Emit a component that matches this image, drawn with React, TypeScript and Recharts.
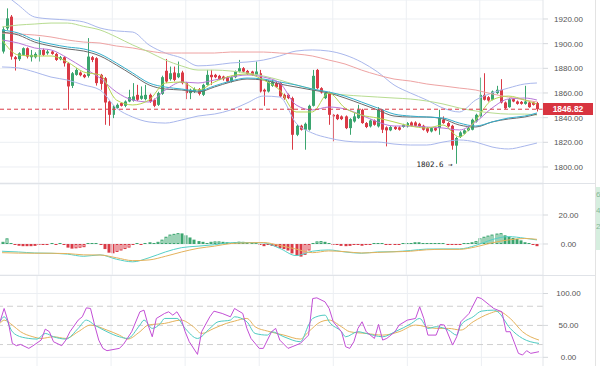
import { ComposedChart, Bar, Line, XAxis, YAxis, CartesianGrid, ReferenceLine } from "recharts";

// candles (index = bar number from the left)
const opens = [
  1893.6, 1912.4, 1921.9, 1889.0, 1887.4, 1890.9, 1896.3, 1889.0, 1889.0, 1890.9,
  1894.9, 1892.2, 1893.6, 1891.7, 1887.4, 1889.0, 1884.1, 1865.8, 1874.7, 1876.6,
  1874.7, 1873.9, 1889.0, 1888.2, 1874.7, 1872.0, 1853.1, 1842.3, 1847.7, 1851.8,
  1849.6, 1853.1, 1853.9, 1858.5, 1855.3, 1855.0, 1858.5, 1854.5, 1850.4, 1859.3,
  1878.0, 1871.2, 1876.6, 1872.8, 1876.6, 1868.0, 1859.9, 1861.2, 1863.1, 1858.5,
  1866.6, 1874.7, 1874.7, 1873.9, 1873.3, 1872.8, 1869.3, 1872.8, 1877.4, 1880.1,
  1877.9, 1877.4, 1874.7, 1876.0, 1862.6, 1861.2, 1865.8, 1868.0, 1868.0, 1858.5,
  1858.5, 1855.8, 1826.1, 1833.4, 1830.2, 1830.2, 1849.6, 1878.7, 1863.9, 1855.8,
  1859.9, 1842.3, 1842.3, 1841.0, 1841.0, 1831.5, 1836.9, 1839.6, 1846.4, 1835.6,
  1832.9, 1837.7, 1832.9, 1846.4, 1832.1, 1829.7, 1832.4, 1832.1, 1832.4, 1832.9,
  1836.1, 1836.1, 1835.0, 1833.4, 1831.5, 1828.8, 1831.5, 1831.5, 1838.3, 1835.6,
  1833.4, 1817.3, 1824.3, 1827.0, 1829.7, 1830.2, 1836.9, 1841.0, 1858.5, 1856.6,
  1854.5, 1859.9, 1862.6, 1852.3, 1848.5, 1855.0, 1853.1, 1852.8, 1851.2, 1852.3,
  1852.3, 1851.8,
];
const highs = [
  1913.8, 1928.6, 1923.2, 1890.0, 1893.0, 1897.0, 1897.0, 1894.9, 1893.0, 1905.2,
  1896.0, 1895.0, 1894.5, 1892.5, 1890.0, 1890.0, 1885.0, 1877.0, 1880.1, 1877.5,
  1875.5, 1904.5, 1890.0, 1889.0, 1875.5, 1873.0, 1854.0, 1850.0, 1851.5, 1852.5,
  1854.0, 1862.6, 1868.0, 1866.6, 1865.3, 1866.6, 1859.5, 1855.5, 1861.0, 1874.0,
  1887.6, 1881.4, 1881.4, 1885.5, 1878.0, 1869.0, 1863.5, 1864.5, 1864.0, 1867.5,
  1878.7, 1878.7, 1875.5, 1874.7, 1874.0, 1873.5, 1873.5, 1878.2, 1886.8, 1881.0,
  1878.7, 1878.0, 1885.5, 1878.7, 1863.5, 1870.2, 1870.6, 1869.0, 1869.0, 1859.5,
  1859.5, 1857.0, 1834.5, 1834.2, 1836.0, 1850.5, 1878.7, 1879.5, 1864.7, 1861.0,
  1861.0, 1843.0, 1843.0, 1841.8, 1841.8, 1839.6, 1843.7, 1850.4, 1847.2, 1836.4,
  1838.5, 1838.5, 1848.5, 1847.0, 1832.9, 1833.2, 1833.2, 1832.9, 1835.0, 1836.4,
  1836.9, 1837.0, 1835.8, 1834.2, 1832.4, 1832.4, 1832.4, 1846.4, 1841.0, 1836.4,
  1834.2, 1824.5, 1829.0, 1830.5, 1832.4, 1839.2, 1843.2, 1872.5, 1876.0, 1857.5,
  1862.0, 1865.8, 1871.2, 1853.1, 1855.8, 1855.8, 1853.9, 1853.5, 1865.8, 1853.1,
  1853.1, 1852.8,
];
const lows = [
  1892.0, 1911.0, 1887.0, 1878.2, 1886.0, 1890.0, 1888.0, 1885.5, 1888.0, 1885.5,
  1890.0, 1891.0, 1891.0, 1886.0, 1886.5, 1881.4, 1846.4, 1864.0, 1874.0, 1873.5,
  1872.0, 1872.5, 1885.0, 1866.0, 1862.6, 1834.2, 1833.4, 1839.6, 1847.0, 1849.0,
  1848.5, 1852.5, 1853.0, 1853.5, 1854.5, 1854.0, 1852.0, 1848.5, 1849.5, 1858.5,
  1868.0, 1870.0, 1869.5, 1872.0, 1867.0, 1855.0, 1855.0, 1860.0, 1858.0, 1857.5,
  1866.0, 1866.6, 1872.0, 1870.5, 1870.0, 1868.5, 1868.5, 1872.0, 1876.6, 1876.6,
  1874.7, 1874.0, 1874.0, 1860.4, 1849.6, 1860.4, 1865.0, 1864.0, 1856.5, 1854.5,
  1855.0, 1814.0, 1825.0, 1829.5, 1814.0, 1829.5, 1849.0, 1863.0, 1859.5, 1855.0,
  1834.2, 1820.8, 1838.0, 1838.0, 1830.7, 1826.1, 1836.0, 1839.0, 1835.0, 1831.5,
  1832.0, 1833.5, 1832.0, 1827.5, 1816.7, 1829.0, 1830.0, 1829.5, 1831.8, 1832.0,
  1832.8, 1832.8, 1832.0, 1829.5, 1827.5, 1828.0, 1829.0, 1826.1, 1835.0, 1832.0,
  1814.0, 1802.6, 1823.5, 1826.5, 1829.0, 1829.7, 1836.0, 1840.0, 1853.9, 1853.0,
  1854.0, 1859.0, 1851.5, 1847.0, 1848.0, 1852.5, 1850.5, 1850.5, 1850.5, 1848.0,
  1849.8, 1845.0,
];
const closes = [
  1911.6, 1920.5, 1889.5, 1887.4, 1892.2, 1896.3, 1889.5, 1890.9, 1891.7, 1894.9,
  1890.9, 1893.6, 1891.7, 1886.8, 1889.0, 1884.1, 1865.3, 1876.0, 1878.7, 1874.4,
  1872.8, 1889.5, 1886.8, 1868.0, 1867.4, 1852.3, 1842.3, 1849.1, 1850.4, 1849.6,
  1853.1, 1856.6, 1857.2, 1854.5, 1857.8, 1858.5, 1853.1, 1849.6, 1859.9, 1872.8,
  1869.3, 1876.0, 1870.6, 1876.0, 1868.0, 1859.9, 1862.6, 1863.1, 1859.3, 1866.6,
  1874.7, 1872.8, 1872.8, 1871.2, 1871.2, 1869.3, 1872.8, 1877.4, 1880.1, 1877.4,
  1875.5, 1874.7, 1877.4, 1861.2, 1861.2, 1869.3, 1869.3, 1864.7, 1857.2, 1855.8,
  1855.8, 1826.1, 1833.4, 1830.2, 1835.0, 1849.6, 1873.9, 1863.9, 1860.4, 1859.9,
  1842.3, 1841.0, 1838.8, 1838.8, 1831.5, 1838.8, 1841.0, 1846.4, 1835.6, 1832.4,
  1837.7, 1834.2, 1846.4, 1830.2, 1829.7, 1832.4, 1830.7, 1830.2, 1834.2, 1835.6,
  1833.4, 1833.4, 1832.9, 1830.2, 1828.8, 1831.5, 1829.7, 1839.6, 1835.6, 1832.9,
  1817.3, 1823.5, 1828.0, 1829.7, 1831.5, 1838.3, 1842.3, 1858.5, 1854.5, 1853.9,
  1861.2, 1862.6, 1852.3, 1847.7, 1855.0, 1853.1, 1851.2, 1851.2, 1853.1, 1848.5,
  1850.4, 1846.82,
];

// MACD histogram, one per bar
const macdHist = [
  1.5, 3.9, 1.0, -0.5, -1.2, -1.5, -1.5, -1.5, -1.3, -0.8,
  -0.5, -0.3, 0.2, -0.2, 0.2, -0.3, -2.5, -3.2, -3.0, -2.6,
  -2.2, 0.8, 1.0, 0.2, -0.3, -3.5, -6.0, -6.4, -5.5, -4.5,
  -3.5, -2.5, -1.0, 0.0, -0.3, 0.3, 1.2, 1.0, 1.5, 3.0,
  5.0, 6.5, 7.0, 7.5, 7.3, 6.0, 4.5, 3.0, 2.0, 1.5,
  1.0, 1.5, 1.8, 1.8, 1.5, 1.2, 1.0, 1.3, 1.6, 1.5,
  1.2, 0.8, 0.6, -0.8, -1.5, -1.0, -1.3, -1.8, -2.8, -3.5,
  -4.5, -6.5, -8.0, -8.7, -7.5, -4.5, 0.8, 1.8, 2.0, 1.5,
  0.5, -0.8, -1.0, -1.3, -1.5, -1.3, -1.0, -0.6, -1.2, -0.8,
  -0.3, 0.2, 0.8, 0.3, -0.6, -0.5, -0.4, -0.4, 0.3, 0.6,
  0.9, 1.2, 1.2, 0.8, 0.5, 0.4, 0.6, 1.0, 0.6, -0.4,
  -0.8, -0.6, -0.2, 0.3, 0.8, 1.2, 2.0, 4.0, 5.0, 5.8,
  6.5, 7.2, 7.5, 6.0, 5.0, 4.2, 3.5, 2.5, 1.2, 0.5,
  -0.4, -1.5,
];

// overlay lines are read every 4th bar
const lineIdx = [0, 4, 8, 12, 16, 20, 24, 28, 32, 36, 40, 44, 48, 52, 56, 60, 64, 68, 72, 76, 80, 84, 88, 92, 96, 100, 104, 108, 112, 116, 120, 124, 128, 131];
const bbUpper = [1941.9, 1931.3, 1921.6, 1920.0, 1919.2, 1917.6, 1912.7, 1910.3, 1909.4, 1898.9, 1892.4, 1888.4, 1882.0, 1882.7, 1884.3, 1885.1, 1886.7, 1890.0, 1894.0, 1894.9, 1894.0, 1890.8, 1885.1, 1877.0, 1866.5, 1860.0, 1854.3, 1847.8, 1844.6, 1854.3, 1860.0, 1864.0, 1867.3, 1868.1];
const bbLower = [1881.1, 1880.3, 1877.0, 1872.9, 1870.5, 1866.5, 1862.4, 1847.8, 1840.5, 1836.5, 1835.6, 1838.1, 1841.3, 1842.9, 1846.2, 1851.9, 1857.5, 1856.7, 1835.6, 1827.5, 1823.5, 1821.0, 1820.2, 1820.2, 1818.6, 1817.8, 1817.8, 1820.2, 1821.9, 1820.2, 1816.2, 1814.6, 1817.0, 1819.4];
const maRed = [1908.6, 1907.8, 1907.0, 1905.4, 1903.0, 1901.3, 1900.5, 1898.1, 1896.5, 1894.0, 1892.4, 1892.4, 1892.4, 1892.4, 1893.2, 1893.2, 1893.2, 1892.4, 1891.6, 1890.0, 1886.7, 1883.5, 1878.6, 1874.6, 1871.3, 1869.7, 1867.3, 1865.7, 1864.0, 1862.4, 1859.2, 1856.7, 1854.3, 1852.7];
const maGreen = [1913.5, 1915.1, 1915.9, 1916.7, 1916.7, 1914.0, 1911.1, 1905.4, 1898.9, 1893.2, 1886.7, 1881.9, 1878.6, 1878.6, 1877.8, 1876.2, 1873.8, 1870.5, 1866.5, 1863.2, 1860.0, 1858.4, 1857.5, 1856.7, 1855.9, 1855.1, 1853.5, 1851.1, 1847.8, 1845.4, 1843.8, 1842.9, 1842.9, 1842.1];
const maGrey = [1909.4, 1907.0, 1901.3, 1898.1, 1895.7, 1894.0, 1890.0, 1882.7, 1874.6, 1866.5, 1863.2, 1862.4, 1860.8, 1864.8, 1868.9, 1871.3, 1870.5, 1867.3, 1864.8, 1862.4, 1860.0, 1855.9, 1851.1, 1846.2, 1841.3, 1840.5, 1840.5, 1838.9, 1834.0, 1832.4, 1836.5, 1838.9, 1840.5, 1842.9];
const maTeal = [1911.0, 1908.6, 1903.0, 1899.7, 1897.3, 1895.7, 1891.6, 1884.3, 1876.2, 1868.1, 1864.8, 1863.2, 1861.6, 1865.7, 1869.7, 1872.1, 1871.3, 1868.9, 1866.5, 1863.2, 1860.8, 1857.5, 1852.7, 1847.8, 1842.9, 1841.3, 1840.5, 1839.7, 1835.6, 1833.2, 1836.5, 1839.7, 1841.3, 1843.8];
const maPurple = [1903.0, 1900.5, 1896.5, 1894.9, 1888.4, 1880.3, 1872.1, 1860.8, 1854.3, 1852.7, 1862.4, 1868.9, 1868.1, 1870.5, 1872.9, 1874.6, 1872.9, 1868.1, 1850.3, 1846.2, 1848.6, 1847.0, 1842.1, 1836.5, 1833.2, 1833.2, 1832.4, 1831.6, 1830.0, 1836.5, 1847.8, 1855.1, 1855.9, 1854.3];
const maFast = [1903.0, 1890.8, 1890.0, 1890.0, 1885.1, 1877.0, 1874.6, 1854.3, 1850.3, 1854.3, 1868.1, 1868.9, 1862.4, 1868.9, 1873.8, 1875.4, 1870.5, 1862.4, 1844.6, 1844.6, 1860.0, 1847.8, 1842.1, 1839.7, 1836.5, 1833.2, 1831.6, 1834.0, 1824.3, 1838.1, 1854.3, 1857.5, 1854.3, 1851.0];
const difLine = [-5.0, -5.5, -6.2, -6.4, -7.0, -8.5, -7.5, -10.5, -12.3, -9.5, -5.5, -2.5, -1.5, -0.5, 0.9, 1.0, 0.8, -3.0, -8.0, -5.0, -4.1, -5.5, -6.4, -5.5, -5.3, -4.5, -3.5, -3.4, -3.4, -1.0, 3.0, 5.1, 4.0, 2.8];
const deaLine = [-6.0, -6.3, -6.4, -6.4, -6.6, -7.5, -7.6, -9.5, -11.5, -11.0, -8.5, -5.5, -3.0, -1.5, 0.3, 0.8, 1.0, -1.0, -3.5, -6.0, -4.8, -5.3, -6.2, -5.8, -5.4, -5.0, -4.0, -3.7, -3.7, -2.0, 0.8, 2.8, 3.8, 3.2];

// KDJ: [bar, value]
const kLine = [[0, 55.7], [1, 63.5], [3, 40.1], [4, 34.8], [7, 29.6], [9, 28.6], [11, 37.4], [13, 32.2], [16, 28.6], [19, 45.3], [21, 58.3], [23, 50.5], [26, 40.1], [29, 32.2], [31, 29.6], [34, 50.5], [35, 58.3], [37, 45.3], [39, 53.1], [40, 60.9], [43, 60.9], [45, 45.3], [48, 29.6], [51, 45.3], [53, 55.7], [56, 58.3], [57, 63.5], [60, 55.7], [62, 37.4], [65, 34.8], [66, 40.1], [69, 32.2], [73, 24.4], [75, 50.5], [76, 60.9], [79, 66.1], [80, 55.7], [83, 40.1], [84, 32.2], [87, 40.1], [89, 37.4], [93, 32.2], [96, 40.1], [100, 53.1], [102, 60.9], [104, 45.3], [106, 47.9], [109, 42.7], [111, 34.8], [112, 50.5], [115, 63.5], [117, 72.3], [120, 73.9], [121, 71.3], [124, 45.3], [127, 29.6], [131, 21.8]];
const dLine = [[0, 53.1], [1, 58.3], [3, 50.5], [5, 40.1], [8, 32.2], [10, 29.6], [13, 32.2], [16, 29.6], [19, 40.1], [22, 50.5], [26, 42.7], [29, 34.8], [31, 28.6], [34, 40.1], [36, 50.5], [40, 53.1], [44, 58.3], [47, 47.9], [49, 37.4], [52, 45.3], [55, 53.1], [57, 56.7], [60, 60.9], [62, 47.9], [65, 41.1], [69, 34.8], [73, 28.6], [75, 40.1], [78, 55.7], [80, 58.3], [83, 47.9], [85, 40.1], [89, 37.4], [93, 34.8], [97, 40.1], [101, 50.5], [106, 45.3], [109, 45.3], [112, 42.7], [115, 55.7], [119, 68.7], [121, 72.3], [124, 60.9], [127, 40.1], [131, 27]];
const jLine = [[0, 55.7], [1, 76.5], [2, 55.7], [3, 21.8], [4, 18.2], [5, 20.2], [7, 14], [8, 18], [10, 27], [11, 44.2], [12, 40.1], [13, 24.4], [15, 18.2], [16, 27], [17, 40.1], [19, 58.3], [20, 63.5], [21, 77.5], [22, 76.5], [23, 50.5], [24, 27], [25, 14], [26, 10.4], [29, 14], [30, 20.2], [32, 40.1], [34, 71.3], [35, 73.9], [36, 50.5], [37, 32.2], [38, 60.9], [40, 68.7], [41, 71.3], [42, 66.1], [43, 71.3], [44, 60.9], [45, 40.1], [46, 24.4], [48, 4.6], [49, 40.1], [51, 63.5], [52, 72.3], [54, 68.7], [56, 63.5], [57, 76.5], [59, 68.7], [60, 45.3], [61, 29.6], [63, 14], [64, 14], [66, 40.1], [67, 45.3], [68, 27], [70, 14], [71, 16.6], [73, 21.8], [75, 34.8], [76, 92.1], [77, 93.2], [79, 86.9], [80, 76.5], [81, 55.7], [83, 40.1], [84, 16.6], [85, 14], [86, 24.4], [87, 45.3], [88, 55.7], [89, 40.1], [91, 29.6], [92, 51.5], [93, 27], [94, 29.6], [96, 40.1], [97, 50.5], [99, 58.3], [101, 60.9], [102, 79.1], [103, 60.9], [104, 34.8], [106, 34.8], [107, 51.5], [108, 50.5], [110, 19.2], [111, 32.2], [112, 55.7], [114, 68.7], [116, 94.2], [117, 92.1], [119, 81.7], [120, 76.5], [122, 71.3], [123, 40.1], [124, 40.1], [126, 6.2], [127, 3.6], [128, 10.4], [129, 6.2], [131, 8.8]];

const priceTicks = [1800, 1820, 1840, 1860, 1880, 1900, 1920];
const macdTicks = [0, 20];
const kdjTicks = [0, 50, 100];
const kdjLevels = [20, 50, 80];
const gridBars = [9, 27, 45, 63, 81, 99, 117];

const UP = "#3ba56f";
const DOWN = "#da3a46";
const GRID = "#eceff3";
const FONT = "'Liberation Sans', Arial, sans-serif";
const W = 595;
const AXIS_W = 52;
const PRICE_DOMAIN = [1787, 1935.4];
const MAIN_H = 183;

const rows: any[] = opens.map((o, i) => ({
  i, o, h: highs[i], l: lows[i], c: closes[i],
  hist: macdHist[i], prevHist: i ? macdHist[i - 1] : 0,
}));
lineIdx.forEach((b, n) => {
  Object.assign(rows[b], {
    bbUp: bbUpper[n], bbLo: bbLower[n], maRed: maRed[n], maGreen: maGreen[n],
    maGrey: maGrey[n], maTeal: maTeal[n], maPurple: maPurple[n], maFast: maFast[n],
    dif: difLine[n], dea: deaLine[n],
  });
});
kLine.forEach(([b, v]) => (rows[b].k = v));
dLine.forEach(([b, v]) => (rows[b].d = v));
jLine.forEach(([b, v]) => (rows[b].j = v));

const lowIdx = lows.indexOf(Math.min(...lows));
const lastClose = closes[closes.length - 1];

function Candle(props: any) {
  const { x, y, width, height, payload } = props;
  const { o, h, l, c } = payload;
  const top = Math.min(y, y + height);
  const span = Math.abs(height);
  const r = h > l ? span / (h - l) : 0;
  const color = c >= o ? UP : DOWN;
  const bodyTop = top + (h - Math.max(o, c)) * r;
  const bodyH = Math.max(1, Math.abs(o - c) * r);
  const cx = Math.round(x + width / 2) + 0.5;
  return (
    <g>
      <line x1={cx} x2={cx} y1={top} y2={top + span} stroke={color} strokeWidth={1} />
      <rect x={cx - 1.5} y={bodyTop} width={3} height={bodyH} fill={color} />
      {payload.i === lowIdx && (
        <text x={cx - 4} y={top + span + 3} textAnchor="end" fontSize={7.5}
          fontFamily="'DejaVu Sans Mono', monospace" fill="#222">
          {`${l} →`}
        </text>
      )}
    </g>
  );
}

function MacdBar(props: any) {
  const { x, y, width, height, payload } = props;
  const v = payload.hist;
  const color = v >= 0 ? UP : DOWN;
  const hollow = v >= 0 ? v >= payload.prevHist : v > payload.prevHist;
  const top = Math.min(y, y + height);
  const hh = Math.abs(height);
  const bx = Math.round(x + width / 2) - 1.5;
  if (hh < 1.5) {
    return <rect x={bx} y={v >= 0 ? top + hh - 1 : top} width={3} height={1} fill={color} />;
  }
  if (hollow) {
    return <rect x={bx + 0.5} y={top + 0.5} width={2} height={hh - 1} fill="#fff" stroke={color} strokeWidth={1} />;
  }
  return <rect x={bx} y={top} width={3} height={hh} fill={color} />;
}

const AxisTick = (props: any) => {
  const { x, y, payload } = props;
  return (
    <text x={x + 18.5} y={y} dy={3} textAnchor="middle" fontSize={8} fontFamily={FONT} fill="#555">
      {Number(payload.value).toFixed(2)}
    </text>
  );
};

function VGrid() {
  return (
    <>
      {gridBars.map((b) => (
        <ReferenceLine key={b} x={b} stroke={GRID} strokeWidth={1} />
      ))}
    </>
  );
}

export default function App() {
  const boxTop = ((PRICE_DOMAIN[1] - lastClose) / (PRICE_DOMAIN[1] - PRICE_DOMAIN[0])) * MAIN_H - 6;
  const yAxisProps = {
    orientation: "right" as const,
    width: AXIS_W,
    allowDataOverflow: true,
    axisLine: { stroke: "#e2e5e9" },
    tickLine: { stroke: "#d5d8dc" },
    tickSize: 5,
    tick: AxisTick,
    interval: 0 as const,
  };
  const xAxisProps = { dataKey: "i", hide: true, padding: { left: 0, right: 4 } };
  const line = (key: string, color: string, type: any = "monotone") => (
    <Line key={key} dataKey={key} stroke={color} strokeWidth={1} dot={false} activeDot={false}
      connectNulls type={type} isAnimationActive={false} />
  );

  return (
    <div style={{ position: "absolute", left: 0, top: 0, width: 600, height: 366, background: "#fff", overflow: "hidden" }}>
      <div style={{ position: "absolute", left: 0, top: 0 }}>
        <ComposedChart width={W} height={MAIN_H} data={rows} margin={{ top: 0, right: 0, bottom: 0, left: 0 }}>
          <CartesianGrid vertical={false} stroke={GRID} />
          {VGrid()}
          <XAxis {...xAxisProps} />
          <YAxis {...yAxisProps} domain={PRICE_DOMAIN} ticks={priceTicks} />
          <Bar dataKey={(d: any) => [d.l, d.h]} barSize={3} shape={Candle} isAnimationActive={false} />
          {line("bbUp", "#a9b7ec")}
          {line("bbLo", "#a9b7ec")}
          {line("maRed", "#eea3a3")}
          {line("maGreen", "#b7dc90")}
          {line("maGrey", "#6a6a6a")}
          {line("maTeal", "#35aecb")}
          {line("maPurple", "#b777d8")}
          {line("maFast", "#b5d652")}
          <ReferenceLine y={lastClose} stroke={DOWN} strokeDasharray="4 3" strokeWidth={1} />
        </ComposedChart>
      </div>
      <div style={{ position: "absolute", left: 543, top: boxTop, width: 50, height: 12, background: "#d8343f", color: "#fff", fontFamily: FONT, fontWeight: 700, fontSize: 8.5, lineHeight: "12px", textAlign: "center" }}>
        {lastClose.toFixed(2)}
      </div>
      <div style={{ position: "absolute", left: 0, top: 183, width: 595, height: 1, background: "#e0e3e8" }} />

      <div style={{ position: "absolute", left: 0, top: 184 }}>
        <ComposedChart width={W} height={91} data={rows} margin={{ top: 0, right: 0, bottom: 0, left: 0 }}>
          <CartesianGrid vertical={false} stroke={GRID} />
          {VGrid()}
          <XAxis {...xAxisProps} />
          <YAxis {...yAxisProps} domain={[-21.4, 41.4]} ticks={macdTicks} />
          <Bar dataKey="hist" barSize={3} shape={MacdBar} isAnimationActive={false} />
          {line("dif", "#55cfc6")}
          {line("dea", "#e4b25c")}
        </ComposedChart>
      </div>
      <div style={{ position: "absolute", left: 0, top: 275, width: 595, height: 1, background: "#e0e3e8" }} />

      <div style={{ position: "absolute", left: 0, top: 276 }}>
        <ComposedChart width={W} height={90} data={rows} margin={{ top: 0, right: 0, bottom: 0, left: 0 }}>
          {VGrid()}
          <XAxis {...xAxisProps} />
          <YAxis {...yAxisProps} domain={[-13.6, 127.4]} ticks={kdjTicks} />
          <ReferenceLine y={0} stroke={GRID} />
          <ReferenceLine y={100} stroke={GRID} />
          {kdjLevels.map((v) => (
            <ReferenceLine key={v} y={v} stroke="#cfcfcf" strokeDasharray="6 4" />
          ))}
          {line("d", "#e4b25c")}
          {line("k", "#4fcac1")}
          {line("j", "#c24fd5", "linear")}
        </ComposedChart>
      </div>

      <div style={{ position: "absolute", left: 595, top: 0, width: 1, height: 366, background: "#e3e3e3" }} />
      <div style={{ position: "absolute", left: 596, top: 187, width: 6, height: 63, background: "#d6eedf", color: "#86b896", fontFamily: FONT, fontSize: 8, lineHeight: "16px", overflow: "hidden" }}>
        <div>6</div><div>4</div><div>2</div>
      </div>
    </div>
  );
}
